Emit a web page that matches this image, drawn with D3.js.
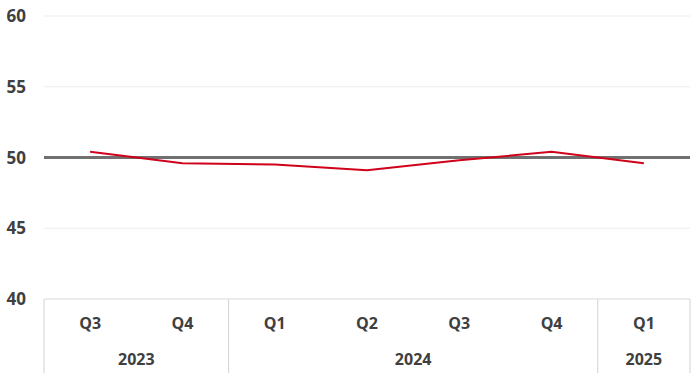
<!DOCTYPE html>
<html>
<head>
<meta charset="utf-8">
<script src="https://cdn.jsdelivr.net/npm/d3@7"></script>
<style>
  body { margin: 0; background: #fff; }
  text { font-family: "Open Sans", "Liberation Sans", sans-serif; font-weight: 700; fill: #404040; }
</style>
</head>
<body>
<div id="chart"></div>
<script>
// data
const quarters = ["Q3", "Q4", "Q1", "Q2", "Q3", "Q4", "Q1"];
const years = ["2023", "2023", "2024", "2024", "2024", "2024", "2025"];
const values = [50.4, 49.6, 49.5, 49.1, 49.8, 50.4, 49.6];
const yTicks = [40, 45, 50, 55, 60];
const refValue = 50;

const svgWidth = 700, svgHeight = 377;
const margin = { top: 16, right: 10, bottom: 78, left: 44 };
const width = svgWidth - margin.left - margin.right;
const height = svgHeight - margin.top - margin.bottom;

const svg = d3.select("#chart").append("svg")
  .attr("width", svgWidth)
  .attr("height", svgHeight);

const g = svg.append("g")
  .attr("transform", `translate(${margin.left}, ${margin.top})`);

const idx = quarters.map((d, i) => i);
const xScale = d3.scaleBand().domain(idx).range([0, width]);
const yScale = d3.scaleLinear().domain([40, 60]).range([height, 0]);

// light gridlines
g.append("g")
  .selectAll("line")
  .data(yTicks.filter(d => d !== 40 && d !== refValue))
  .enter().append("line")
  .attr("x1", 0).attr("x2", width)
  .attr("y1", d => yScale(d)).attr("y2", d => yScale(d))
  .attr("stroke", "#ececec").attr("stroke-width", 1);

// y labels
g.append("g")
  .selectAll("text")
  .data(yTicks)
  .enter().append("text")
  .attr("x", -18)
  .attr("y", d => yScale(d))
  .attr("dy", "0.36em")
  .attr("text-anchor", "end")
  .style("font-size", "17px")
  .text(d => d);

// category axis
const axisG = g.append("g").attr("transform", `translate(0, ${height})`);
axisG.append("line")
  .attr("x1", 0).attr("x2", width)
  .attr("stroke", "#d9d9d9").attr("stroke-width", 1.2);

// year group boundaries
const groups = [];
years.forEach((y, i) => {
  const last = groups[groups.length - 1];
  if (last && last.year === y) last.end = i;
  else groups.push({ year: y, start: i, end: i });
});
const bounds = [0].concat(groups.map(gr => gr.end + 1));
axisG.selectAll(".sep")
  .data(bounds)
  .enter().append("line")
  .attr("class", "sep")
  .attr("x1", d => d < idx.length ? xScale(d) : width)
  .attr("x2", d => d < idx.length ? xScale(d) : width)
  .attr("y1", 0).attr("y2", 74)
  .attr("stroke", "#d9d9d9").attr("stroke-width", 1.2);

axisG.selectAll(".q")
  .data(idx)
  .enter().append("text")
  .attr("class", "q")
  .attr("x", d => xScale(d) + xScale.bandwidth() / 2)
  .attr("y", 24)
  .attr("dy", "0.36em")
  .attr("text-anchor", "middle")
  .style("font-size", "16px")
  .text(d => quarters[d]);

axisG.selectAll(".yr")
  .data(groups)
  .enter().append("text")
  .attr("class", "yr")
  .attr("x", d => (xScale(d.start) + xScale(d.end) + xScale.bandwidth()) / 2)
  .attr("y", 60)
  .attr("dy", "0.36em")
  .attr("text-anchor", "middle")
  .style("font-size", "16px")
  .text(d => d.year);

// 50 reference line
g.append("line")
  .attr("x1", 0).attr("x2", width)
  .attr("y1", yScale(refValue)).attr("y2", yScale(refValue))
  .attr("stroke", "#707070").attr("stroke-width", 3);

// series line
const line = d3.line()
  .x((d, i) => xScale(i) + xScale.bandwidth() / 2)
  .y(d => yScale(d));

g.append("path")
  .datum(values)
  .attr("fill", "none")
  .attr("stroke", "#d0021b")
  .attr("stroke-width", 2)
  .attr("d", line);
</script>
</body>
</html>
